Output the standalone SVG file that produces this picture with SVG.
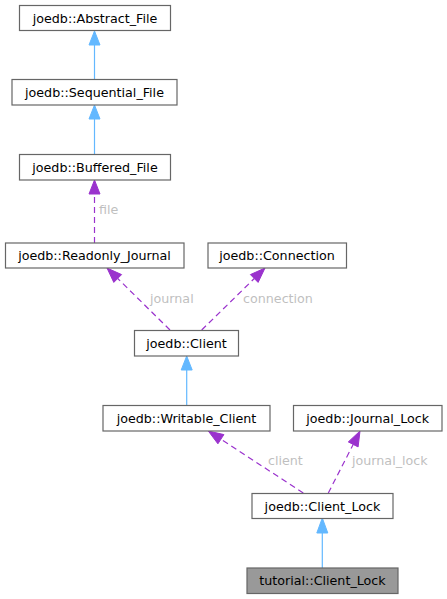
<svg xmlns="http://www.w3.org/2000/svg" width="447" height="599" viewBox="0 0 447 599">
<style>
.n rect{fill:#ffffff;stroke:#666666;stroke-width:1.2}
.n text{font-family:"DejaVu Sans",sans-serif;font-size:12.7px;fill:#000000;text-anchor:middle}
.inh{stroke:#63b8ff;fill:none;stroke-width:1.2}
.inhh{fill:#63b8ff;stroke:#63b8ff}
.use{stroke:#9a32cd;fill:none;stroke-width:1.2;stroke-dasharray:6,4}
.useh{fill:#9a32cd;stroke:#9a32cd}
.lbl{font-family:"DejaVu Sans",sans-serif;font-size:12.7px;fill:#bfbfbf}
</style>
<rect width="447" height="599" fill="#ffffff"/>
<g id="connectors">
<path class="inh" d="M94.5,79V45"/><polygon class="inhh" points="94.5,31 89,45 100,45"/>
<path class="inh" d="M94.5,154V119"/><polygon class="inhh" points="94.5,105 89,119 100,119"/>
<path class="use" d="M94.5,243V194"/><polygon class="useh" points="94.5,180 89,194 100,194"/>
<text class="lbl" x="99" y="214">file</text>
<path class="use" d="M170,330L117.7,278.5"/><polygon class="useh" points="107,268 121.6,274.6 113.8,282.4"/>
<text class="lbl" x="150" y="303">journal</text>
<path class="use" d="M201.7,330L254.3,278.5"/><polygon class="useh" points="265,268 258.1,282.4 250.4,274.6"/>
<text class="lbl" x="243" y="303">connection</text>
<path class="inh" d="M186.7,405V370"/><polygon class="inhh" points="186.7,356 181.2,370 192.2,370"/>
<path class="use" d="M303.3,493L220.9,439.2"/><polygon class="useh" points="208.3,431 223.9,434.6 217.9,443.8"/>
<text class="lbl" x="268" y="465">client</text>
<path class="use" d="M328.3,493L353.2,444.4"/><polygon class="useh" points="360,431 358.1,446.9 348.3,441.9"/>
<text class="lbl" x="352" y="465">journal_lock</text>
<path class="inh" d="M322.3,568V533"/><polygon class="inhh" points="322.3,518 316.8,533 327.8,533"/>
</g>
<g id="abstract_file" class="n"><rect x="19.5" y="5.5" width="151" height="25"/><text x="95" y="22.5">joedb::Abstract_File</text></g>
<g id="sequential_file" class="n"><rect x="12" y="79.5" width="165" height="25.5"/><text x="94.5" y="96.5">joedb::Sequential_File</text></g>
<g id="buffered_file" class="n"><rect x="19.5" y="154.5" width="151" height="25.5"/><text x="95" y="171.5">joedb::Buffered_File</text></g>
<g id="readonly_journal" class="n"><rect x="5.5" y="243" width="178.5" height="25"/><text x="94.5" y="260">joedb::Readonly_Journal</text></g>
<g id="connection" class="n"><rect x="208" y="243" width="138.5" height="25"/><text x="277" y="260">joedb::Connection</text></g>
<g id="client" class="n"><rect x="134.5" y="330.5" width="104" height="25.5"/><text x="186.5" y="347.5">joedb::Client</text></g>
<g id="writable_client" class="n"><rect x="103" y="405.5" width="167" height="25.5"/><text x="186.5" y="422.5">joedb::Writable_Client</text></g>
<g id="journal_lock" class="n"><rect x="293.5" y="405.5" width="148.5" height="25.5"/><text x="367.7" y="422.5">joedb::Journal_Lock</text></g>
<g id="client_lock" class="n"><rect x="252" y="493.5" width="141" height="25"/><text x="322.5" y="510.5">joedb::Client_Lock</text></g>
<g id="tutorial_client_lock" class="n"><rect x="247" y="568" width="151" height="25.5" style="fill:#999999"/><text x="322.5" y="584.5">tutorial::Client_Lock</text></g>
</svg>
